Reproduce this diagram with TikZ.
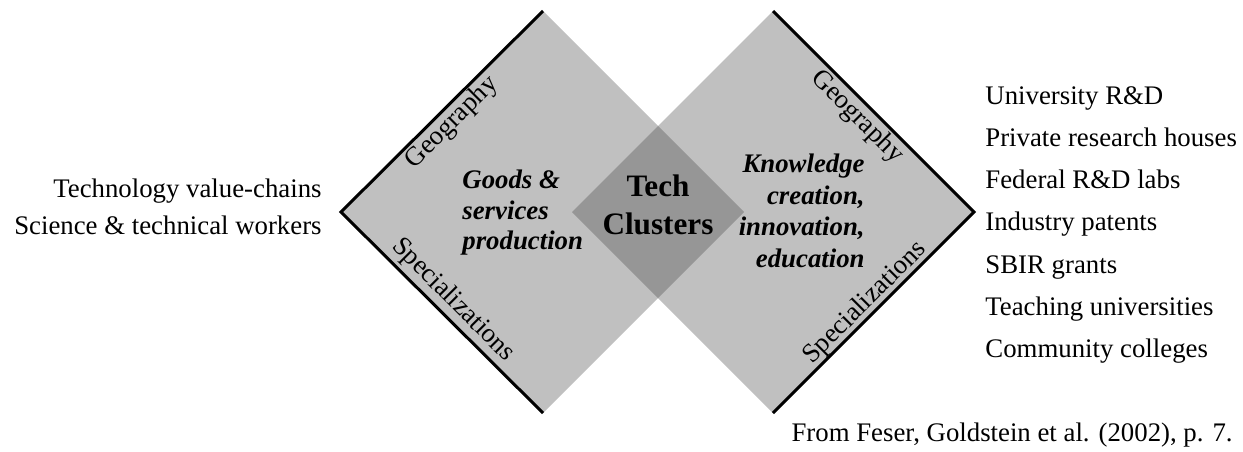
\documentclass[tikz,border=0pt]{standalone}
\usepackage{fontspec}
\setmainfont{Liberation Serif}
\usetikzlibrary{positioning}

\definecolor{paleshade}{gray}{0.753}
\definecolor{darkshade}{gray}{0.59}

\begin{document}
\begin{tikzpicture}[
  x=0.5pt, y=-0.5pt,
  font=\fontsize{13.4}{16}\selectfont,
  lbl/.style={inner sep=0pt},
  item/.style={inner sep=0pt, anchor=base west},
  field/.style={inner sep=0pt, font=\fontsize{13.4}{15.25}\selectfont\bfseries\itshape},
  rim/.style={line width=1.5pt, line join=miter}
]
\useasboundingbox (0,0) rectangle (1243,451);

% corners of the two squares and of their overlap
\coordinate (lt) at (543,11);
\coordinate (ll) at (341,212);
\coordinate (lb) at (543,413);
\coordinate (lr) at (744,212);
\coordinate (rt) at (773,11);
\coordinate (rl) at (572,212);
\coordinate (rb) at (773,413);
\coordinate (rr) at (974,212);
\coordinate (ot) at (658,126);
\coordinate (ob) at (658,298);

\fill[paleshade] (lt) -- (ll) -- (lb) -- (lr) -- cycle;
\fill[paleshade] (rt) -- (rl) -- (rb) -- (rr) -- cycle;
\fill[darkshade] (ot) -- (rl) -- (ob) -- (lr) -- cycle;
\draw[rim] (lt) -- (ll) -- (lb);
\draw[rim] (rt) -- (rr) -- (rb);

% labels along the outer sides
\node[lbl, rotate=45] (geoL) at (452,123) {Geography};
\node[lbl, rotate=-45] (specL) at (453,300) {Specializations};
\node[lbl, rotate=-45] (geoR) at (857,117) {Geography};
\node[lbl, rotate=45] (specR) at (865,303) {Specializations};

% the three fields
\node[field, align=left, anchor=west] (goods) at (462,213) {Goods \&\\services\\production};
\node[field, align=right, anchor=east, font=\fontsize{13.4}{15.75}\selectfont\bfseries\itshape] (know) at (865,211) {Knowledge\\creation,\\innovation,\\education};
\node[lbl, align=center, font=\fontsize{15.6}{19}\selectfont\bfseries] (tech) at (658,205) {Tech\\Clusters};

% left list
\node[lbl, anchor=base east] (chains) at (322,197) {Technology value-chains};
\node[lbl, anchor=base east] (workers) at (322,234) {Science \& technical workers};

% right list
\node[item] (unird) at (985,104) {University R\&D};
\node[item, below=21.15pt of unird.base west, anchor=base west] (private) {Private research houses};
\node[item, below=21.15pt of private.base west, anchor=base west] (federal) {Federal R\&D labs};
\node[item, below=21.15pt of federal.base west, anchor=base west] (patents) {Industry patents};
\node[item, below=21.15pt of patents.base west, anchor=base west] (sbir) {SBIR grants};
\node[item, below=21.15pt of sbir.base west, anchor=base west] (teaching) {Teaching universities};
\node[item, below=21.15pt of teaching.base west, anchor=base west] (community) {Community colleges};

\node[lbl, anchor=base east] (source) at (1233,441) {From Feser, Goldstein et al. (2002), p. 7.};
\end{tikzpicture}
\end{document}
